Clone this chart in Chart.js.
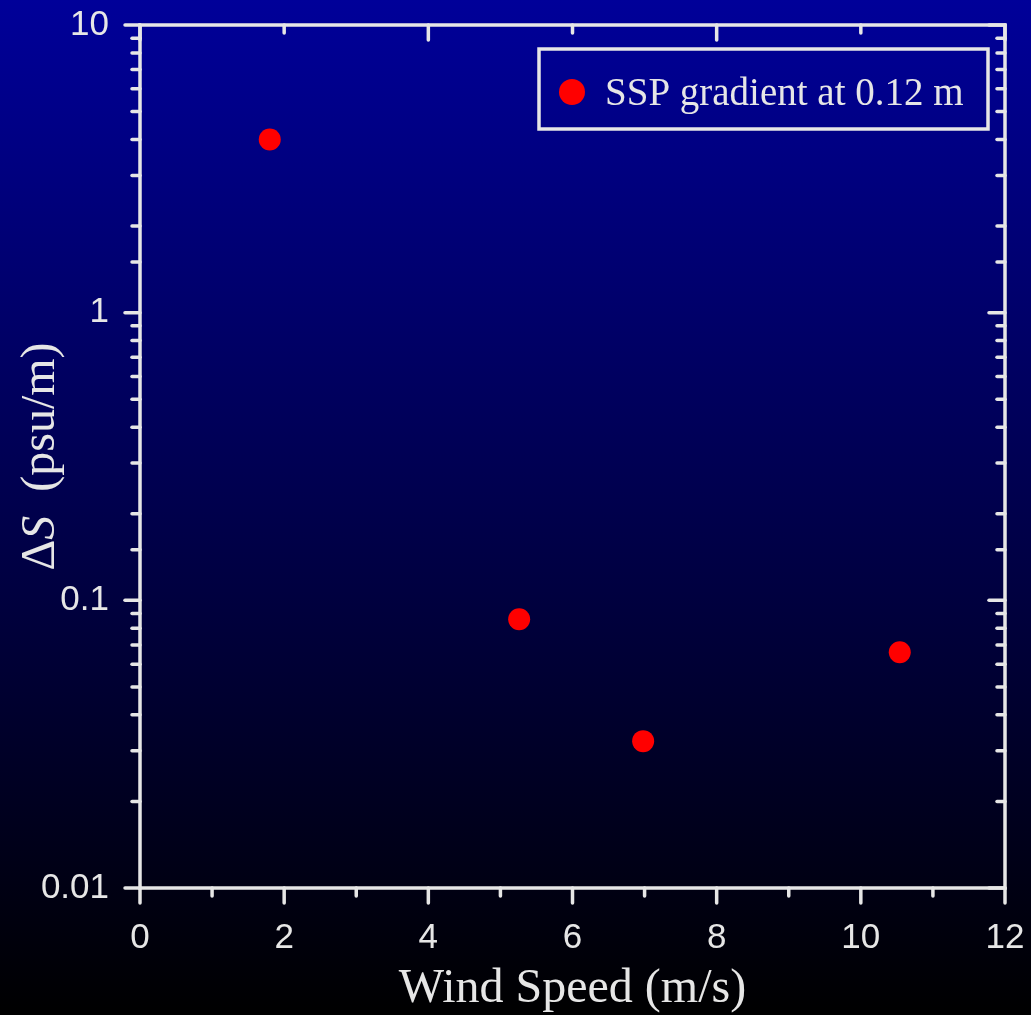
<!DOCTYPE html>
<html>
<head>
<meta charset="utf-8">
<script src="https://cdn.jsdelivr.net/npm/chart.js@4/dist/chart.umd.min.js"></script>
<style>
  html, body { margin: 0; padding: 0; background: #000; }
  canvas { display: block; }
</style>
</head>
<body>
<canvas id="scatter-chart" width="1031" height="1015"></canvas>
<script>
// data
const windSpeed = [1.8, 5.26, 6.98, 10.54];     // m/s
const deltaS = [4.0, 0.086, 0.0324, 0.066];      // psu/m
const seriesLabel = 'SSP gradient at 0.12 m';
const xTickLabels = ['0', '2', '4', '6', '8', '10', '12'];
const yTickLabels = ['0.01', '0.1', '1', '10'];

const axisColor = '#e6e6e6';
const serif = '"Liberation Serif", "Times New Roman", serif';

// background, frame, ticks on all four sides, titles and legend box
const framePlugin = {
  id: 'frame',
  beforeDraw(chart) {
    const { ctx, width, height } = chart;
    const g = ctx.createLinearGradient(0, 0, 0, height);
    g.addColorStop(0, 'rgb(0,0,153)');
    g.addColorStop(1, 'rgb(0,0,0)');
    ctx.save();
    ctx.fillStyle = g;
    ctx.fillRect(0, 0, width, height);
    ctx.restore();
  },
  afterDraw(chart) {
    const { ctx, chartArea: a } = chart;
    const xs = chart.scales.x;
    const ys = chart.scales.y;
    ctx.save();
    ctx.strokeStyle = axisColor;
    ctx.lineWidth = 3.5;
    ctx.lineCap = 'round';
    ctx.strokeRect(a.left, a.top, a.right - a.left, a.bottom - a.top);

    const line = (x1, y1, x2, y2) => {
      ctx.beginPath();
      ctx.moveTo(x1, y1);
      ctx.lineTo(x2, y2);
      ctx.stroke();
    };

    // x ticks: bottom outward, top inward
    xs.ticks.forEach(t => {
      const px = xs.getPixelForValue(t.value);
      const major = t.value % 2 === 0;
      line(px, a.bottom, px, a.bottom + (major ? 15 : 8));
      if (major) {
        line(px, a.top, px, a.top + (t.value % 4 === 0 ? 15 : 8));
      }
    });

    // y ticks: left outward, right inward
    ys.ticks.forEach(t => {
      const py = ys.getPixelForValue(t.value);
      const lg = Math.log10(t.value);
      const major = Math.abs(lg - Math.round(lg)) < 1e-6;
      line(a.left, py, a.left - (major ? 15 : 8), py);
      line(a.right, py, a.right - (major ? 16 : 8), py);
    });

    ctx.fillStyle = axisColor;

    // x title
    ctx.font = '48px ' + serif;
    ctx.textAlign = 'center';
    ctx.textBaseline = 'alphabetic';
    ctx.fillText('Wind Speed (m/s)', (a.left + a.right) / 2, 1002);

    // y title with italic S
    const parts = [
      { text: '\u0394', font: '48px ' + serif },
      { text: 'S', font: 'italic 48px ' + serif },
      { text: '  (psu/m)', font: '48px ' + serif },
    ];
    let total = 0;
    parts.forEach(p => { ctx.font = p.font; p.w = ctx.measureText(p.text).width; total += p.w; });
    ctx.translate(54, (a.top + a.bottom) / 2);
    ctx.rotate(-Math.PI / 2);
    ctx.textAlign = 'left';
    let cx = -total / 2;
    parts.forEach(p => { ctx.font = p.font; ctx.fillText(p.text, cx, 0); cx += p.w; });
    ctx.setTransform(1, 0, 0, 1, 0, 0);

    // legend box
    const ds = chart.data.datasets[0];
    const bx = a.right - 466, by = a.top + 24, bw = 449, bh = 80;
    ctx.strokeRect(bx, by, bw, bh);
    ctx.fillStyle = ds.backgroundColor;
    ctx.beginPath();
    ctx.arc(bx + 33, by + 43, 13, 0, Math.PI * 2);
    ctx.fill();
    ctx.fillStyle = axisColor;
    ctx.font = '39px ' + serif;
    ctx.textAlign = 'left';
    ctx.fillText(ds.label, bx + 66, by + 56);
    ctx.restore();
  }
};

Chart.defaults.font.family = '"Liberation Sans", Arial, sans-serif';
Chart.defaults.color = axisColor;

const chartCanvas = document.getElementById('scatter-chart').getContext('2d');

const config = {
  type: 'scatter',
  data: {
    datasets: [
      {
        label: seriesLabel,
        data: windSpeed.map((x, i) => ({ x: x, y: deltaS[i] })),
        backgroundColor: '#ff0000',
        borderWidth: 0,
        pointRadius: 11,
        pointHoverRadius: 11,
      },
    ],
  },
  options: {
    responsive: false,
    animation: false,
    layout: { padding: { top: 25, right: 26, left: 0, bottom: 0 } },
    plugins: {
      legend: { display: false },
      tooltip: { enabled: false },
    },
    scales: {
      x: {
        type: 'linear',
        min: 0,
        max: 12,
        grid: { display: false, drawTicks: false },
        border: { display: false },
        ticks: {
          stepSize: 1,
          autoSkip: false,
          maxRotation: 0,
          padding: 29,
          font: { size: 35 },
          color: axisColor,
          callback: v => (v % 2 === 0 ? xTickLabels[v / 2] : ''),
        },
        afterFit: s => {
          s.height = 127;
          s.paddingLeft = 0;
          s.paddingRight = 0;
        },
      },
      y: {
        type: 'logarithmic',
        min: 0.01,
        max: 10,
        grid: { display: false, drawTicks: false },
        border: { display: false },
        ticks: {
          autoSkip: false,
          padding: 31,
          font: { size: 35 },
          color: axisColor,
          callback: v => {
            const lg = Math.round(Math.log10(v));
            return Math.abs(Math.log10(v) - lg) < 1e-6 ? yTickLabels[lg + 2] : '';
          },
        },
        afterFit: s => {
          s.width = 140;
          s.paddingTop = 0;
          s.paddingBottom = 0;
        },
      },
    },
  },
  plugins: [framePlugin],
};

const scatterChart = new Chart(chartCanvas, config);
</script>
</body>
</html>
